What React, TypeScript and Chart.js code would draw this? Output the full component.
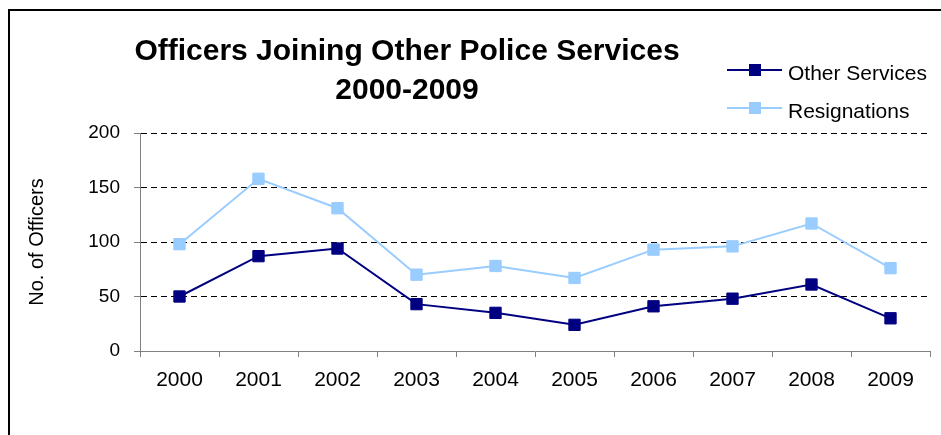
import React, { useEffect, useRef } from "react";
import { Chart, registerables } from "chart.js";

Chart.register(...registerables);

const years = ["2000", "2001", "2002", "2003", "2004", "2005", "2006", "2007", "2008", "2009"];
const otherServices = [50, 87, 94, 43, 35, 24, 41, 48, 61, 30];
const resignations = [98, 158, 131, 70, 78, 67, 93, 96, 117, 76];
const titleLines = ["Officers Joining Other Police Services", "2000-2009"];
const yAxisTitle = "No. of Officers";

const FONT = "'Liberation Sans', Arial, sans-serif";

const titleLegendPlugin = {
  id: "titleLegend",
  afterDraw(chart: any) {
    const ctx = chart.ctx;
    ctx.save();
    ctx.fillStyle = "#000";
    ctx.textAlign = "center";
    ctx.textBaseline = "alphabetic";
    ctx.font = `bold 30px ${FONT}`;
    ctx.fillText(titleLines[0], 407, 60);
    ctx.fillText(titleLines[1], 407, 99);

    chart.data.datasets.forEach((ds: any, i: number) => {
      const y = 70 + i * 38;
      ctx.strokeStyle = ds.borderColor;
      ctx.lineWidth = 2;
      ctx.beginPath();
      ctx.moveTo(727, y);
      ctx.lineTo(782, y);
      ctx.stroke();
      ctx.fillStyle = ds.pointBackgroundColor;
      ctx.fillRect(749, y - 6, 12, 12);
      ctx.fillStyle = "#000";
      ctx.textAlign = "left";
      ctx.font = `21px ${FONT}`;
      ctx.fillText(ds.label, 788, y + 10);
    });
    ctx.restore();
  },
};

export default function App() {
  const ref = useRef<HTMLCanvasElement>(null);
  useEffect(() => {
    if (!ref.current) return;
    const chart = new Chart(ref.current, {
      type: "line",
      data: {
        labels: years,
        datasets: [
          {
            label: "Other Services",
            data: otherServices,
            borderColor: "#000080",
            backgroundColor: "#000080",
            pointBackgroundColor: "#000080",
            pointBorderColor: "#000080",
            borderWidth: 2,
            pointStyle: "rect",
            pointRadius: 8,
            pointBorderWidth: 1,
            tension: 0,
          },
          {
            label: "Resignations",
            data: resignations,
            borderColor: "#99CCFF",
            backgroundColor: "#99CCFF",
            pointBackgroundColor: "#99CCFF",
            pointBorderColor: "#99CCFF",
            borderWidth: 2,
            pointStyle: "rect",
            pointRadius: 8,
            pointBorderWidth: 1,
            tension: 0,
          },
        ],
      },
      options: {
        responsive: false,
        animation: false,
        layout: { padding: { top: 133, right: 11, left: 21, bottom: 0 } },
        plugins: {
          legend: { display: false },
          title: { display: false },
          tooltip: { enabled: false },
        },
        scales: {
          x: {
            offset: true,
            afterFit: (s: any) => {
              s.height = 84;
            },
            grid: {
              offset: true,
              drawOnChartArea: false,
              drawTicks: true,
              tickLength: 6,
              tickColor: "#808080",
              color: "#808080",
            },
            border: { display: true, color: "#808080", width: 1 },
            ticks: {
              color: "#000",
              font: { family: FONT, size: 21 },
              padding: 11,
              maxRotation: 0,
            },
          },
          y: {
            min: 0,
            max: 200,
            afterFit: (s: any) => {
              s.width = 119;
            },
            ticks: {
              stepSize: 50,
              color: "#000",
              font: { family: FONT, size: 19 },
              padding: 14,
            },
            grid: {
              color: (c: any) => (c.tick && c.tick.value === 0 ? "rgba(0,0,0,0)" : "#000"),
              drawTicks: true,
              tickLength: 6,
              tickColor: "#808080",
              tickBorderDash: [],
              lineWidth: 1,
            },
            border: { display: true, color: "#808080", width: 1, dash: [6, 4] },
            title: {
              display: true,
              text: yAxisTitle,
              color: "#000",
              font: { family: FONT, size: 20 },
              padding: { top: 4, bottom: 4 },
            },
          },
        },
      },
      plugins: [titleLegendPlugin],
    });
    return () => chart.destroy();
  }, []);

  return (
    <div style={{ position: "fixed", left: 0, top: 0, width: 941, height: 435, overflow: "hidden", background: "#fff" }}>
      <div
        style={{
          position: "absolute",
          left: 8,
          top: 9,
          width: 1000,
          height: 600,
          border: "2px solid #000",
        }}
      />
      <canvas ref={ref} width={941} height={435} style={{ position: "absolute", left: 0, top: 0 }} />
    </div>
  );
}
